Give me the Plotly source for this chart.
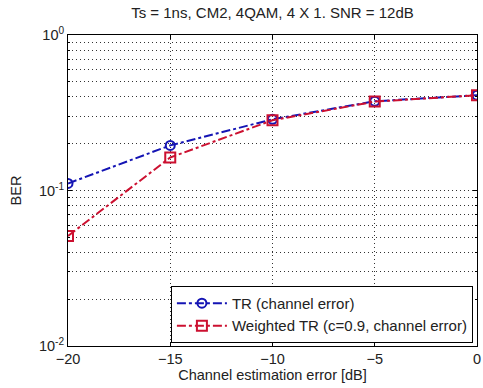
import plotly.graph_objects as go

x_err = [-20, -15, -10, -5, 0]
ber_tr = [0.111, 0.195, 0.287, 0.375, 0.41]
ber_wtr = [0.051, 0.163, 0.283, 0.373, 0.41]
y_tick_vals = [0.01, 0.1, 1]
y_tick_text = ["10<sup>-2</sup>", "10<sup>-1</sup>", "10<sup>0</sup>"]
x_tick_vals = [-20, -15, -10, -5, 0]

FONT = "Liberation Sans, Arial"
TXT = "#222"

fig = go.Figure()
fig.add_trace(go.Scatter(
    x=x_err, y=ber_tr, mode="lines+markers", name="TR (channel error)",
    line=dict(color="#1414b4", width=2, dash="dashdot"),
    marker=dict(symbol="circle-open", size=9, color="#1414b4", line=dict(width=2)),
))
fig.add_trace(go.Scatter(
    x=x_err, y=ber_wtr, mode="lines+markers", name="Weighted TR (c=0.9, channel error)",
    line=dict(color="#cc1030", width=2, dash="dashdot"),
    marker=dict(symbol="square-open", size=10, color="#cc1030", line=dict(width=2)),
))

GRID_DASH = "1px,3px"
axis_common = dict(
    showline=True, linecolor="black", linewidth=1, mirror="ticks",
    ticks="inside", tickcolor="black", ticklen=4,
    tickfont=dict(family=FONT, size=14.5, color=TXT),
    gridcolor="#333", griddash=GRID_DASH, gridwidth=1, zeroline=False,
    ticklabeloverflow="allow",
)

fig.update_xaxes(
    range=[-20, 0], tickvals=x_tick_vals,
    title=dict(text="Channel estimation error [dB]", standoff=0,
               font=dict(family=FONT, size=14.5, color=TXT)),
    showgrid=True, **axis_common,
)
fig.update_yaxes(
    type="log", range=[-2, 0], tickvals=y_tick_vals, ticktext=y_tick_text,
    title=dict(text="BER", standoff=13,
               font=dict(family=FONT, size=14.5, color=TXT)),
    showgrid=True,
    minor=dict(tickvals=[v * 10 ** e for e in (-2, -1) for v in range(2, 10)],
               showgrid=True, gridcolor="#333", griddash=GRID_DASH, gridwidth=1,
               ticks="inside", ticklen=2, tickcolor="black"),
    **axis_common,
)

fig.update_layout(
    width=483, height=388,
    margin=dict(l=68, r=2, t=35, b=42),
    paper_bgcolor="white", plot_bgcolor="white",
    title=dict(text="Ts = 1ns, CM2, 4QAM, 4 X 1. SNR = 12dB",
               xref="paper", x=0.5, xanchor="center", y=0.968, yanchor="middle",
               font=dict(family=FONT, size=15, color=TXT)),
    legend=dict(x=0.99, xanchor="right", y=0.01, yanchor="bottom",
                bgcolor="white", bordercolor="black", borderwidth=1,
                font=dict(family=FONT, size=15, color=TXT),
                tracegroupgap=0, itemwidth=50),
    showlegend=True,
)

fig.write_html("out.html", config={"displayModeBar": False},
               post_script="document.body.style.margin='0';document.body.style.overflow='hidden';")
